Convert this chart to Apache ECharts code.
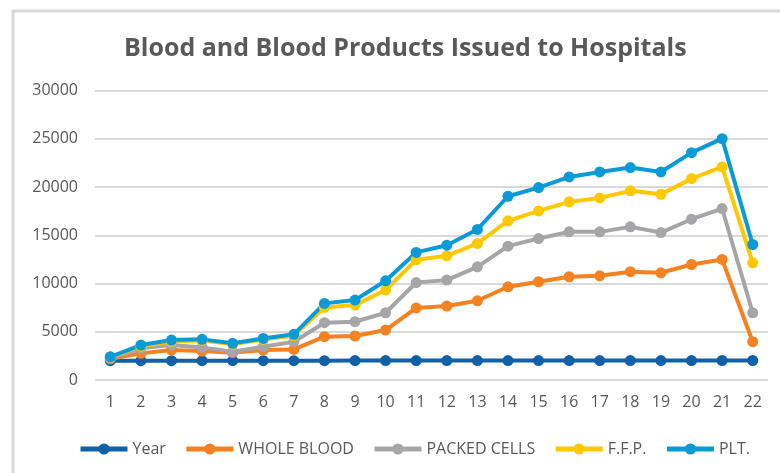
<!DOCTYPE html>
<html>
<head>
<meta charset="utf-8">
<script src="https://cdn.jsdelivr.net/npm/echarts@6/dist/echarts.min.js"></script>
<style>
  html, body { margin: 0; padding: 0; background: #fff; }
  #main { width: 780px; height: 473px; }
</style>
</head>
<body>
<div id="main"></div>
<script>
// x categories
const categories = ['1','2','3','4','5','6','7','8','9','10','11','12','13','14','15','16','17','18','19','20','21','22'];

// series values
const year = [2000,2001,2002,2003,2004,2005,2006,2007,2008,2009,2010,2011,2012,2013,2014,2015,2016,2017,2018,2019,2020,2021];
const wholeBlood = [2200,2760,3100,3000,2830,3100,3170,4490,4560,5180,7470,7660,8210,9660,10180,10700,10800,11220,11110,11970,12490,3970];
const packedCells = [2250,3280,3620,3380,2930,3450,3970,5940,6040,6970,10100,10350,11730,13870,14660,15350,15350,15870,15280,16660,17770,6970];
const ffp = [2350,3500,4000,4100,3700,4200,4600,7520,7760,9320,12460,12870,14150,16490,17520,18460,18870,19600,19250,20870,22080,12140];
const plt = [2400,3620,4140,4210,3800,4310,4730,7940,8280,10280,13220,13970,15600,19040,19940,21040,21560,22010,21560,23560,25010,14040];

const yTicks = [0, 5000, 10000, 15000, 20000, 25000, 30000];

const chart = echarts.init(document.getElementById('main'));

const mk = (name, data, color) => ({
  name: name,
  type: 'line',
  data: data,
  symbol: 'circle',
  symbolSize: 11,
  lineStyle: { width: 4, color: color },
  itemStyle: { color: color },
  animation: false
});

const option = {
  backgroundColor: '#fff',
  textStyle: { fontFamily: 'Open Sans' },
  title: {
    text: 'Blood and Blood Products Issued to Hospitals',
    left: 119,
    top: 31,
    textStyle: { fontSize: 25, fontWeight: 'bold', color: '#595959', fontFamily: 'Open Sans' }
  },
  graphic: [{
    type: 'rect',
    shape: { x: 13, y: 11, width: 800, height: 500 },
    style: { fill: 'none', stroke: '#d9d9d9', lineWidth: 3 },
    silent: true
  }],
  legend: {
    top: 436,
    left: 73,
    itemWidth: 47,
    itemHeight: 14,
    itemGap: 18,
    lineStyle: { width: 5 },
    textStyle: { fontSize: 16, color: '#595959', fontFamily: 'Open Sans' },
    data: ['Year', 'WHOLE BLOOD', 'PACKED CELLS', 'F.F.P.', 'PLT.']
  },
  grid: { left: 95, right: 12, top: 90.5, bottom: 93 },
  xAxis: {
    type: 'category',
    data: categories,
    boundaryGap: true,
    axisLine: { show: false },
    axisTick: { show: false },
    axisLabel: { fontSize: 16, color: '#595959', margin: 14 }
  },
  yAxis: {
    type: 'value',
    min: yTicks[0],
    max: yTicks[yTicks.length - 1],
    interval: 5000,
    axisLine: { show: false },
    axisTick: { show: false },
    axisLabel: { fontSize: 16, color: '#595959', margin: 17, formatter: v => String(v) },
    splitLine: { lineStyle: { color: '#d9d9d9', width: 2 } }
  },
  series: [
    mk('Year', year, '#1161a9'),
    mk('WHOLE BLOOD', wholeBlood, '#f58220'),
    mk('PACKED CELLS', packedCells, '#a6a6a8'),
    mk('F.F.P.', ffp, '#ffc800'),
    mk('PLT.', plt, '#0a9ad8')
  ]
};

chart.setOption(option);
</script>
</body>
</html>
